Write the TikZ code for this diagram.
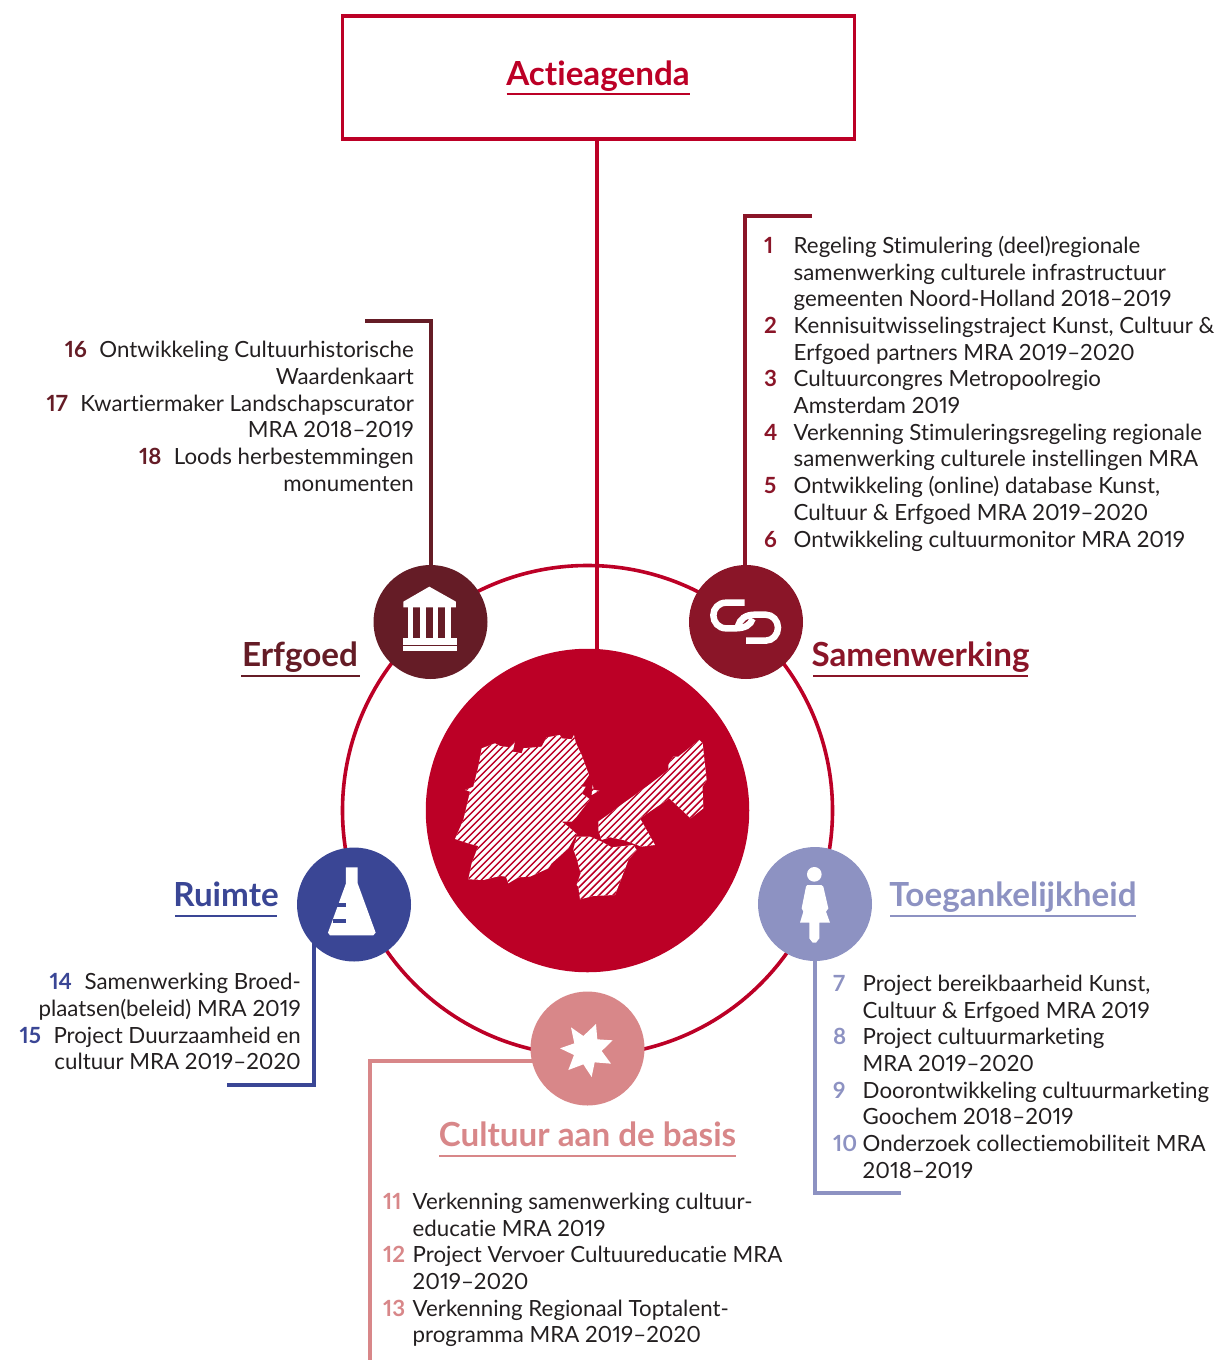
\documentclass[tikz,border=0pt]{standalone}
\usepackage{fontspec}
\usetikzlibrary{backgrounds}
\setmainfont[Numbers=Proportional,Ligatures=NoCommon]{Lato}
\definecolor{cred}{HTML}{BC0026}
\definecolor{cerf}{HTML}{651C26}
\definecolor{csam}{HTML}{8A1528}
\definecolor{crui}{HTML}{3A4695}
\definecolor{ctoe}{HTML}{8D92C2}
\definecolor{cbas}{HTML}{D88789}
\definecolor{ctxt}{HTML}{231F20}
\newcommand{\bodyfont}{\fontsize{22.3}{26.7}\selectfont}
\newcommand{\headfont}{\fontsize{33.2}{38}\selectfont\bfseries}
\newcommand{\rlist}[1]{\bodyfont\begin{tabular}{@{}l@{}l@{}}#1\end{tabular}}
\newcommand{\nm}[2]{\makebox[29.5pt][l]{\textcolor{#1}{\bfseries #2}}}
\newcommand{\li}[2]{\textcolor{#1}{\bfseries #2}\hspace{12.5pt}}
\tikzset{
  x=1pt,y=-1pt,
  hub/.style={circle,fill=#1,minimum size=114pt,inner sep=0pt,draw=none},
  lnk/.style={line width=3.6pt,draw=#1,line join=miter},
  heading/.style={font=\headfont,text=#1,inner sep=0pt,anchor=base},
  rblock/.style={inner sep=0pt,anchor=north west,text=ctxt},
  lblock/.style={inner sep=0pt,anchor=north east,align=right,text=ctxt,font=\bodyfont},
  ul/.style={line width=1.6pt,draw=#1},
  icon/.style={shift={#1},x=0.3333pt,y=-0.3333pt},
}
\begin{document}
\begin{tikzpicture}
\useasboundingbox (0,0) rectangle (1221,1360);
% ring and disc
\node[circle,draw=cred,line width=3.6pt,minimum size=490pt,inner sep=0pt] (ring) at (587.5,810.5) {};
\node[circle,fill=cred,minimum size=323.5pt,inner sep=0pt] (disc) at (587.5,810.5) {};
% top box
\node[draw=cred,line width=3.6pt,minimum width=512pt,minimum height=123pt,inner sep=0pt] (box) at (598.5,77.5) {};
\node[heading=cred] (ttl) at (598,85) {Actieagenda};
\draw[ul=cred] (506.5,94) -- (690,94);
% hubs
\node[hub=cerf] (erf) at (430.5,622) {};
\node[hub=csam] (sam) at (746,622) {};
\node[hub=crui] (rui) at (354,904.5) {};
\node[hub=ctoe] (toe) at (815,904) {};
\node[hub=cbas] (bas) at (587.5,1048.5) {};
% connector ends
\coordinate (a0) at (597,700);
\coordinate (e1) at (365,321);
\coordinate (e2) at (431,321);
\coordinate (s1) at (812,216);
\coordinate (s2) at (745,216);
\coordinate (r1) at (227,1085);
\coordinate (r2) at (314,1085);
\coordinate (t1) at (901,1193);
\coordinate (t2) at (815,1193);
\coordinate (b1) at (370,1362);
\coordinate (b2) at (370,1061);
\begin{pgfonlayer}{background}
\draw[lnk=cred] (box.south -| a0) -- (a0);
\draw[lnk=cerf] (e1) -- (e2) -- (erf.center -| e2);
\draw[lnk=csam] (s1) -- (s2) -- (sam.center -| s2);
\draw[lnk=crui] (r1) -- (r2) -- (rui.center -| r2);
\draw[lnk=ctoe] (t1) -- (t2) -- (toe.center);
\draw[lnk=cbas] (b1) -- (b2) -- (bas.center |- b2);
\end{pgfonlayer}
% headings
\node[heading=cerf] (herf) at (300,666.5) {Erfgoed};
\draw[ul=cerf] (241,676) -- (360,676);
\node[heading=csam] (hsam) at (920.5,666.5) {Samenwerking};
\draw[ul=csam] (813,676) -- (1028,676);
\node[heading=crui] (hrui) at (226,906.5) {Ruimte};
\draw[ul=crui] (175,916) -- (277,916);
\node[heading=ctoe] (htoe) at (1013,906.5) {Toegankelijkheid};
\draw[ul=ctoe] (890,916) -- (1136,916);
\node[heading=cbas] (hbas) at (587.5,1146.5) {Cultuur aan de basis};
\draw[ul=cbas] (439,1156) -- (736,1156);
% lists
\node[rblock] (lsam) at (764,234.5) {\rlist{
\nm{csam}{1}&Regeling Stimulering (deel)regionale\\
&samenwerking culturele infrastructuur\\
&gemeenten Noord-Holland 2018–2019\\
\nm{csam}{2}&Kennisuitwisselingstraject Kunst, Cultuur \&\\
&Erfgoed partners MRA 2019–2020\\
\nm{csam}{3}&Cultuurcongres Metropoolregio\\
&Amsterdam 2019\\
\nm{csam}{4}&Verkenning Stimuleringsregeling regionale\\
&samenwerking culturele instellingen MRA\\
\nm{csam}{5}&Ontwikkeling (online) database Kunst,\\
&Cultuur \& Erfgoed MRA 2019–2020\\
\nm{csam}{6}&Ontwikkeling cultuurmonitor MRA 2019\\
}};
\node[rblock] (ltoe) at (833,972.5) {\rlist{
\nm{ctoe}{7}&Project bereikbaarheid Kunst,\\
&Cultuur \& Erfgoed MRA 2019\\
\nm{ctoe}{8}&Project cultuurmarketing\\
&MRA 2019–2020\\
\nm{ctoe}{9}&Doorontwikkeling cultuurmarketing\\
&Goochem 2018–2019\\
\nm{ctoe}{10}&Onderzoek collectiemobiliteit MRA\\
&2018–2019\\
}};
\node[rblock] (lbas) at (383,1190.5) {\rlist{
\nm{cbas}{11}&Verkenning samenwerking cultuur-\\
&educatie MRA 2019\\
\nm{cbas}{12}&Project Vervoer Cultuureducatie MRA\\
&2019–2020\\
\nm{cbas}{13}&Verkenning Regionaal Toptalent-\\
&programma MRA 2019–2020\\
}};
\node[lblock] (lerf) at (414,341) {\baselineskip=26.7pt
\li{cerf}{16}Ontwikkeling Cultuurhistorische\\Waardenkaart\\
\li{cerf}{17}Kwartiermaker Landschapscurator\\MRA 2018–2019\\
\li{cerf}{18}Loods herbestemmingen\\monumenten};
\node[lblock] (lrui) at (301,973) {\baselineskip=26.7pt
\li{crui}{14}Samenwerking Broed-\\plaatsen(beleid) MRA 2019\\
\li{crui}{15}Project Duurzaamheid en\\cultuur MRA 2019–2020};
% map
\begin{scope}[icon={(420,640)}]
\def\mapA{(185,325)--(225,310)--(240,318)--(270,322)--(285,305)--(278,335)--(305,340)--(310,325)--(365,320)--(380,292)--(420,285)--(425,295)--(455,298)--(462,285)--(468,310)--(485,345)--(507,405)--(490,430)--(480,440)--(497,440)--(485,460)--(510,478)--(470,530)--(455,545)--(425,545)--(445,560)--(470,582)--(445,625)--(395,670)--(385,685)--(330,710)--(295,712)--(265,730)--(258,710)--(240,708)--(190,720)--(145,718)--(155,670)--(175,618)--(150,612)--(105,597)--(130,540)--(150,455)--(135,450)--(160,440)--(175,380)--cycle}
\def\mapB{(470,590)--(510,590)--(545,605)--(575,622)--(640,615)--(650,630)--(625,660)--(610,700)--(585,765)--(520,768)--(480,778)--(475,740)--(470,735)--(482,700)--(470,655)--(460,628)--cycle}
\def\mapC{(535,545)--(570,520)--(610,490)--(680,440)--(745,390)--(745,375)--(760,350)--(775,350)--(838,300)--(848,310)--(860,420)--(848,440)--(850,505)--(812,535)--(748,475)--(660,535)--(705,615)--(665,620)--(610,600)--(570,592)--(545,600)--(535,570)--cycle}
\def\mapD{(515,465)--(518,435)--(522,450)--(538,452)--cycle}
\fill[white] \mapA \mapB \mapC \mapD;
\begin{scope}
\clip \mapA \mapB \mapC \mapD;
\foreach \k in {-500,-479,...,500}{
  \draw[cred,line width=1.5pt] (\k,900) -- (\k+800,100);
}
\end{scope}
\end{scope}
% temple
\begin{scope}[icon={(360,550)}]
\fill[white] (130,155)--(208,110)--(288,155)--(288,172)--(130,172)--cycle;
\foreach \a in {143,180,218,255}{\fill[white] (\a,172) rectangle (\a+17,265);}
\fill[white] (130,265) rectangle (290,285);
\fill[white] (130,288) rectangle (290,302);
\end{scope}
% chain
\begin{scope}[icon={(700,590)}]
\draw[white,line width=6.5pt] (134,38) -- (78,38) .. controls (56,38) and (40,55) .. (40,76) .. controls (40,97) and (56,115) .. (78,115) -- (105,115) .. controls (135,115) and (152,105) .. (158,86);
\draw[white,line width=6.5pt] (138,152) -- (197,152) .. controls (218,152) and (234,134) .. (234,113) .. controls (234,92) and (218,74) .. (197,74) -- (165,74) .. controls (135,74) and (120,88) .. (114,108);
\end{scope}
% flask
\begin{scope}[icon={(290,840)}]
\fill[white] (168,82)--(203,82)--(203,130)--(257,278)--(250,286)--(120,286)--(114,278)--(168,130)--cycle;
\fill[crui] (140,190) rectangle (168,200);
\fill[crui] (128,238) rectangle (168,250);
\end{scope}
% figure
\begin{scope}[icon={(750,840)}]
\fill[white] (193,103) circle[radius=22];
\fill[white] (172,135)--(214,135)--(220,140)--(235,205)--(228,215)--(240,248)--(208,248)--(208,295)--(198,308)--(188,308)--(178,295)--(178,248)--(150,248)--(160,215)--(155,205)--(168,140)--cycle;
\end{scope}
% star
\begin{scope}[icon={(520,985)}]
\fill[white] (120,190)--(163,175)--(153,127)--(190,153)--(228,117)--(232,163)--(278,166)--(245,198)--(273,236)--(224,232)--(215,276)--(190,238)--(145,255)--(162,210)--cycle;
\end{scope}
\end{tikzpicture}
\end{document}
